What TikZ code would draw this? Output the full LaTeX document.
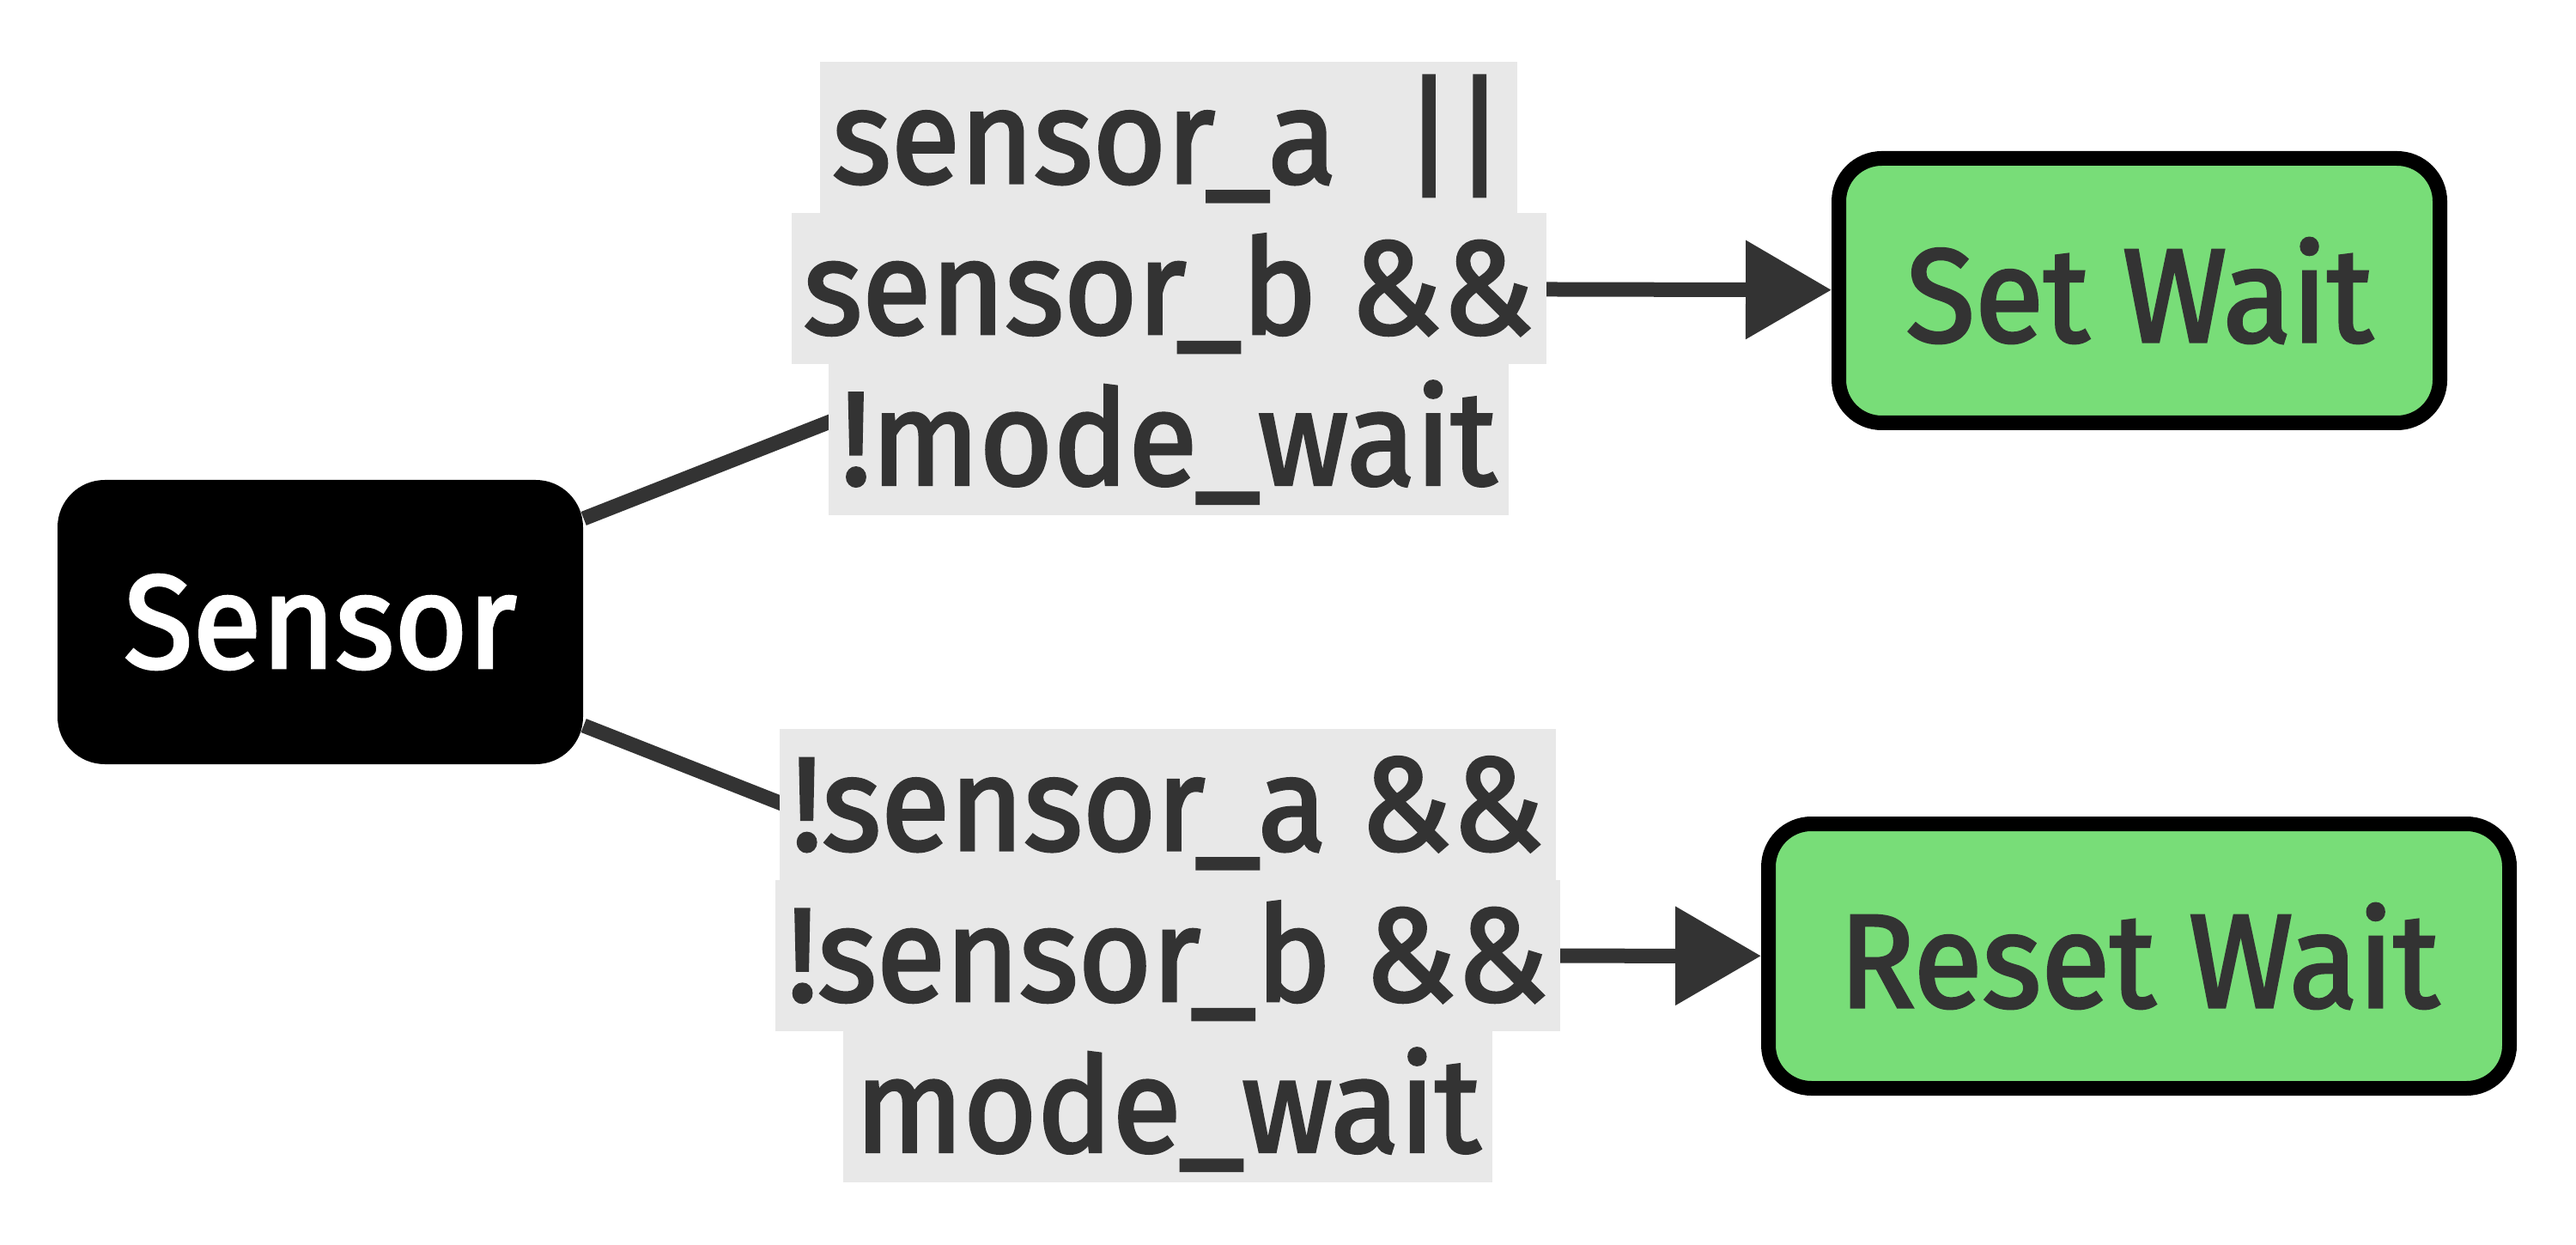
\documentclass[tikz,border=0pt]{standalone}
\usepackage{fontspec}
\setmainfont{Fira Sans}[UprightFeatures={FakeBold=2.2}, FakeStretch=0.95]
\usetikzlibrary{arrows.meta,positioning,backgrounds}
\definecolor{inkgray}{HTML}{333333}
\definecolor{lblgray}{HTML}{E8E8E8}
\definecolor{waitgreen}{HTML}{78DD78}
\newcommand{\condline}[1]{{\setlength{\fboxsep}{0pt}\colorbox{lblgray}{\rule[-10pt]{0pt}{50pt}\hspace*{4pt}#1\hspace*{4pt}}}}

\begin{document}
\begin{tikzpicture}[
    every node/.style={font=\fontsize{44}{50}\selectfont},
    source/.style={fill=black, rounded corners=0.55cm, text=white, minimum width=6.12cm, minimum height=3.31cm},
    state/.style={draw=black, line width=0.17cm, rounded corners=0.5cm, fill=waitgreen, text=inkgray, minimum height=3.08cm},
    cond/.style={inner sep=0pt, align=center, text=inkgray},
    flow/.style={line width=0.17cm, draw=inkgray},
    arrowed/.style={flow, -{Triangle[length=1.0cm, width=1.11cm]}}
]
\useasboundingbox (0,0) rectangle (30,-14.5);
\node[source] (sensor) at (3.73,-7.245) {Sensor};
\node[cond] (condset) at (13.61,-3.36) {\condline{sensor\_a ~||}\\\condline{sensor\_b \&\&}\\\condline{!mode\_wait}};
\node[cond] (condreset) at (13.60,-11.13) {\condline{!sensor\_a \&\&}\\\condline{!sensor\_b \&\&}\\\condline{mode\_wait}};
\node[state, minimum width=7.0cm] (setwait) at (24.915,-3.385) {Set Wait};
\node[state, minimum width=8.63cm] (resetwait) at (24.91,-11.135) {Reset Wait};
\begin{scope}[on background layer]
\draw[flow] (sensor) -- (condset.center);
\draw[arrowed] (condset.center) -- (setwait);
\draw[flow] (sensor) -- (condreset.center);
\draw[arrowed] (condreset.center) -- (resetwait);
\end{scope}
\end{tikzpicture}
\end{document}
